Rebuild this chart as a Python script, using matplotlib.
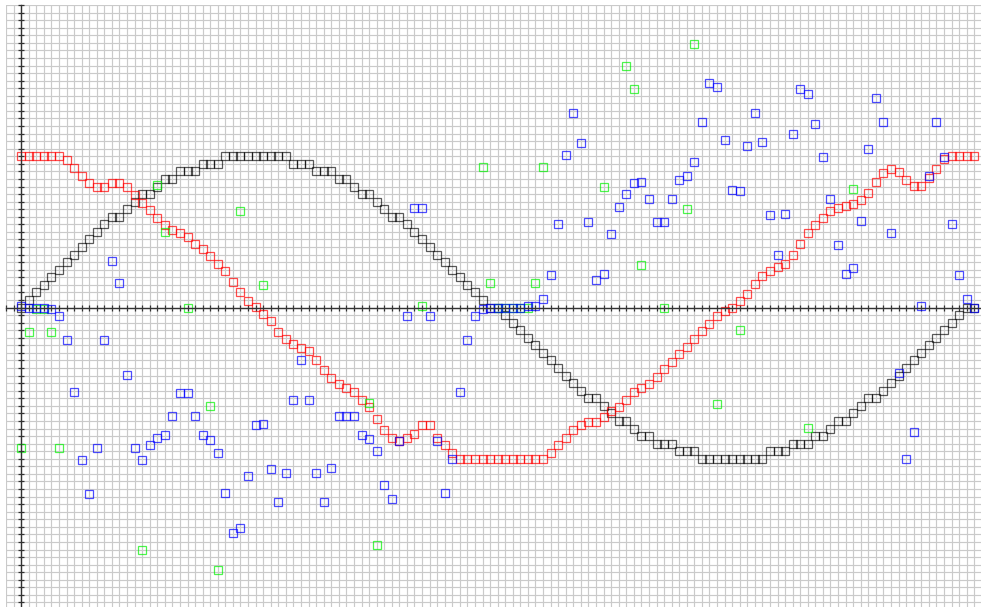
import matplotlib
matplotlib.use("Agg")
import matplotlib.pyplot as plt
import numpy as np

# ---- data (grid units) ----
x_idx = list(range(127))

black = [0, 1, 2, 3, 4, 5, 6, 7, 8, 9, 10, 11, 12, 12, 13, 14, 15, 15, 16, 17, 17, 18, 18, 18, 19, 19, 19,
         20, 20, 20, 20, 20, 20, 20, 20, 20, 19, 19, 19, 18, 18, 18, 17, 17, 16, 15, 15, 14, 13, 12, 12, 11,
         10, 9, 8, 7, 6, 5, 4, 3, 2, 1, 0,
         0, -1, -2, -3, -4, -5, -6, -7, -8, -9, -10, -11, -12, -12, -13, -14, -15, -15, -16, -17, -17, -18,
         -18, -18, -19, -19, -19, -20, -20, -20, -20, -20, -20, -20, -20, -20, -19, -19, -19, -18, -18, -18,
         -17, -17, -16, -15, -15, -14, -13, -12, -12, -11, -10, -9, -8, -7, -6, -5, -4, -3, -2, -1, 0, 0]

red = [20, 20, 20, 20, 20, 20, 19.5, 18.4, 17.4, 16.4, 16, 16, 16.5, 16.5, 16, 14.9, 13.8, 12.9, 11.8,
       10.9, 10.3, 9.8, 9.3, 8.4, 7.8, 6.8, 5.8, 4.8, 3.4, 2.1, 0.8, 0.1, -0.9, -1.8, -3.2, -4.2, -4.8,
       -5.3, -5.8, -6.9, -8.2, -9.3, -10.1, -10.6, -11.2, -12.2, -13.2, -14.7, -16.2, -17.2, -17.6, -17.2,
       -16.7, -15.6, -15.6, -17.2, -18.2, -19.2, -20, -20, -20, -20, -20, -20, -20, -20, -20, -20, -20, -20,
       -19.2, -18.2, -17.2, -16.2, -15.6, -15.1, -15.1, -14.5, -13.7, -13.2, -12.2, -11.2, -10.6, -10.1,
       -9.2, -8.1, -7.2, -6.2, -5.2, -4.2, -3.1, -2.2, -1.1, -0.5, -0.1, 0.8, 1.8, 3.1, 4.2, 4.8, 5.3, 5.7,
       6.9, 8.4, 9.8, 10.9, 11.9, 12.7, 13.1, 13.4, 13.7, 14.2, 15.2, 16.6, 17.8, 18.3, 17.9, 16.9, 16.1,
       16.1, 17.1, 18.3, 19.7, 20, 20, 20, 20]

blue = [0.2, 0, -0.1, 0, -0.2, -1.1, -4.3, -11.2, -20.1, -24.7, -18.6, -4.3, 6.2, 3.3, -8.9, -18.6, -20.2,
        -18.2, -17.3, -16.9, -14.35, -11.35, -11.35, -14.35, -16.9, -17.5, -19.3, -24.5, -29.8, -29.1,
        -22.3, -15.5, -15.4, -21.4, -25.7, -21.9, -12.2, -6.9, -12.2, -21.9, -25.7, -21.2, -14.4, -14.4,
        -14.4, -16.9, -17.4, -19, -23.5, -25.3, -17.7, -1.1, 13.2, 13.2, -1.1, -17.7, -24.5, -20, -11.2,
        -4.3, -1.1, -0.2, 0, 0, 0, 0, 0, 0.2, 0.2, 1.1, 4.3, 11.1, 20.1, 25.7, 21.7, 11.3, 3.6, 4.4, 9.7,
        13.3, 15, 16.4, 16.6, 14.3, 11.3, 11.3, 14.3, 16.8, 17.4, 19.2, 24.5, 29.7, 29.1, 22.2, 15.5, 15.4,
        21.3, 25.7, 21.9, 12.2, 6.9, 12.3, 22.9, 28.9, 28.2, 24.3, 19.9, 14.3, 8.3, 4.4, 5.2, 11.4, 21,
        27.7, 24.5, 9.9, -8.7, -20, -16.5, 0.2, 17.4, 24.5, 19.9, 11.1, 4.3, 1.1, 0]

green_x = [0, 1, 2, 3, 4, 5, 16, 18, 19, 22, 25, 26, 29, 32, 46, 47, 53, 61, 62, 63, 64, 65, 66, 67, 68, 69,
           77, 80, 81, 82, 85, 88, 89, 92, 95, 104, 110]
green_y = [-18.6, -3.2, -0.24, -0.24, -3.2, -18.6, -32.1, 16.2, 10, 0, -13, -34.7, 12.7, 3, -12.6, -31.4,
           0.2, 18.6, 3.2, 0, 0, 0, 0, 0, 3.2, 18.6, 15.9, 32, 28.9, 5.6, 0, 13, 34.9, -12.8, -3, -15.9, 15.7]

# ---- figure ----
fig = plt.figure(figsize=(9.81, 6.07), dpi=100)
ax = fig.add_axes([6 / 981, 0, 975 / 981, 602 / 607])
ax.set_xlim(-2, 126.9)
ax.set_ylim(-39.6, 40)
ax.set_xticks(np.arange(-2, 127))
ax.set_yticks(np.arange(-39, 41))
ax.grid(True, color="#cacaca", linewidth=0.85)
ax.set_axisbelow(True)
for s in ["top", "right"]:
    ax.spines[s].set_visible(False)
ax.spines["left"].set_position(("data", 0))
ax.spines["bottom"].set_position(("data", 0))
for s in ["left", "bottom"]:
    ax.spines[s].set_color("#333333")
    ax.spines[s].set_linewidth(1.0)
ax.tick_params(direction="inout", length=5, width=0.9, colors="#333333",
               labelleft=False, labelbottom=False)

mk = dict(marker="s", ms=5.6, mfc="none", mew=0.9, linestyle="none", clip_on=True)
ax.plot(x_idx, black, mec=(0, 0, 0, 0.65), **mk)
ax.plot(x_idx, red, mec=(1, 0, 0, 0.7), **mk)
ax.plot(green_x, green_y, mec=(0, 0.95, 0, 0.7), **mk)
ax.plot(x_idx, blue, mec=(0, 0, 1, 0.7), **mk)

fig.savefig("out.png", dpi=100)
